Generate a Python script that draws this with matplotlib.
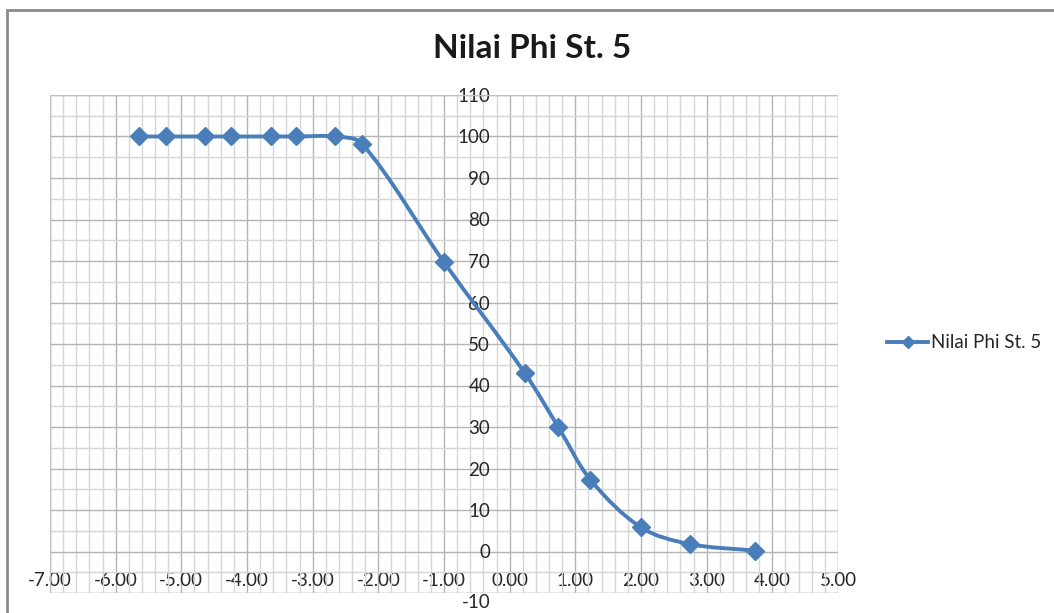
import numpy as np
import matplotlib.pyplot as plt
from matplotlib.path import Path
from matplotlib.patches import PathPatch, Rectangle
from matplotlib.lines import Line2D
from matplotlib.ticker import MultipleLocator, FormatStrFormatter
from matplotlib.transforms import ScaledTranslation

# data: phi size vs percent passing
phi = [-5.64, -5.23, -4.64, -4.25, -3.64, -3.25, -2.66, -2.25,
       -1.00, 0.23, 0.74, 1.23, 2.00, 2.74, 3.74]
passing = [100.0, 100.0, 100.0, 100.0, 100.0, 100.0, 100.0, 98.3,
           69.7, 43.0, 30.0, 17.3, 5.8, 1.8, 0.2]

title = 'Nilai Phi St. 5'
series_name = 'Nilai Phi St. 5'

blue = '#4a7ebb'
txt = '#262626'
plt.rcParams['font.family'] = ['Lato', 'DejaVu Sans']


def smooth_path(ax, x, y):
    # smoothed line as cubic bezier segments through the points,
    # tangents scaled by segment length on screen (no overshoot)
    pts = ax.transData.transform(np.column_stack([x, y]))
    n = len(pts)
    verts = [pts[0]]
    codes = [Path.MOVETO]
    seg = np.hypot(*np.diff(pts, axis=0).T)
    for i in range(n - 1):
        p1, p2 = pts[i], pts[i + 1]
        if i > 0:
            t1 = (p2 - pts[i - 1]) / (seg[i - 1] + seg[i])
        else:
            t1 = (p2 - p1) / seg[i]
        if i + 2 < n:
            t2 = (pts[i + 2] - p1) / (seg[i] + seg[i + 1])
        else:
            t2 = (p2 - p1) / seg[i]
        c1 = p1 + t1 * seg[i] / 3.0
        c2 = p2 - t2 * seg[i] / 3.0
        verts += [c1, c2, p2]
        codes += [Path.CURVE4] * 3
    verts = ax.transData.inverted().transform(np.array(verts))
    return Path(verts, codes)


fig = plt.figure(figsize=(10.54, 6.13), dpi=100)
ax = fig.add_axes([50 / 1054, 20 / 613, 788 / 1054, 498 / 613])

ax.set_xlim(-7, 5)
ax.set_ylim(-10, 110)
ax.xaxis.set_major_locator(MultipleLocator(1))
ax.xaxis.set_minor_locator(MultipleLocator(0.2))
ax.yaxis.set_major_locator(MultipleLocator(10))
ax.yaxis.set_minor_locator(MultipleLocator(5))
ax.xaxis.set_major_formatter(FormatStrFormatter('%.2f'))
ax.yaxis.set_major_formatter(FormatStrFormatter('%d'))

ax.grid(which='major', color='#b4b4b4', lw=1.0, zorder=0)
ax.grid(which='minor', color='#d6d6d6', lw=1.0, zorder=0)
ax.set_axisbelow(True)

for s in ['top', 'right']:
    ax.spines[s].set_visible(False)
ax.spines['left'].set_position(('data', 0))
ax.spines['bottom'].set_position(('data', 0))
ax.spines['left'].set_visible(False)
ax.spines['bottom'].set_visible(False)
ax.tick_params(which='both', length=0)
ax.tick_params(axis='x', pad=15, labelsize=13.5, labelcolor=txt)
ax.tick_params(axis='y', pad=14, labelsize=13.5, labelcolor=txt)

# the -10 label sits a little lower in the original
fig.canvas.draw()
for lab in ax.get_yticklabels():
    if lab.get_text() in ('-10', '\u221210'):
        lab.set_transform(lab.get_transform() +
                          ScaledTranslation(0, -6 / 72, fig.dpi_scale_trans))

# outer border of the plot area grid
ax.add_patch(Rectangle((0, 0), 1, 1, transform=ax.transAxes, fill=False,
                       ec='#c0c0c0', lw=1.0, zorder=1))

ax.add_patch(PathPatch(smooth_path(ax, phi, passing), fill=False, ec=blue,
                       lw=2.8, capstyle='round', zorder=3))
ax.plot(phi, passing, ls='none', marker='D', ms=9, color=blue, zorder=4)

fig.text(532 / 1054, 1 - 48 / 613, title, ha='center', va='center',
         fontsize=24, fontweight='bold', color='#1a1a1a')

handle = Line2D([], [], color=blue, lw=2.8, marker='D', ms=6)
fig.legend([handle], [series_name], loc='center left',
           bbox_to_anchor=(870 / 1054, 1 - 343 / 613), frameon=False,
           fontsize=13.5, handlelength=2.2, handletextpad=0.15,
           labelcolor=txt)

# chart frame (only top and left edges fall inside the picture)
fig.add_artist(Rectangle((6.5 / 1054, -0.1), 1.2, 1 - 9.5 / 613 + 0.1,
                         transform=fig.transFigure, fill=False,
                         ec='#8c8c8c', lw=2.0))

fig.savefig('out.png', dpi=100, facecolor='white')
